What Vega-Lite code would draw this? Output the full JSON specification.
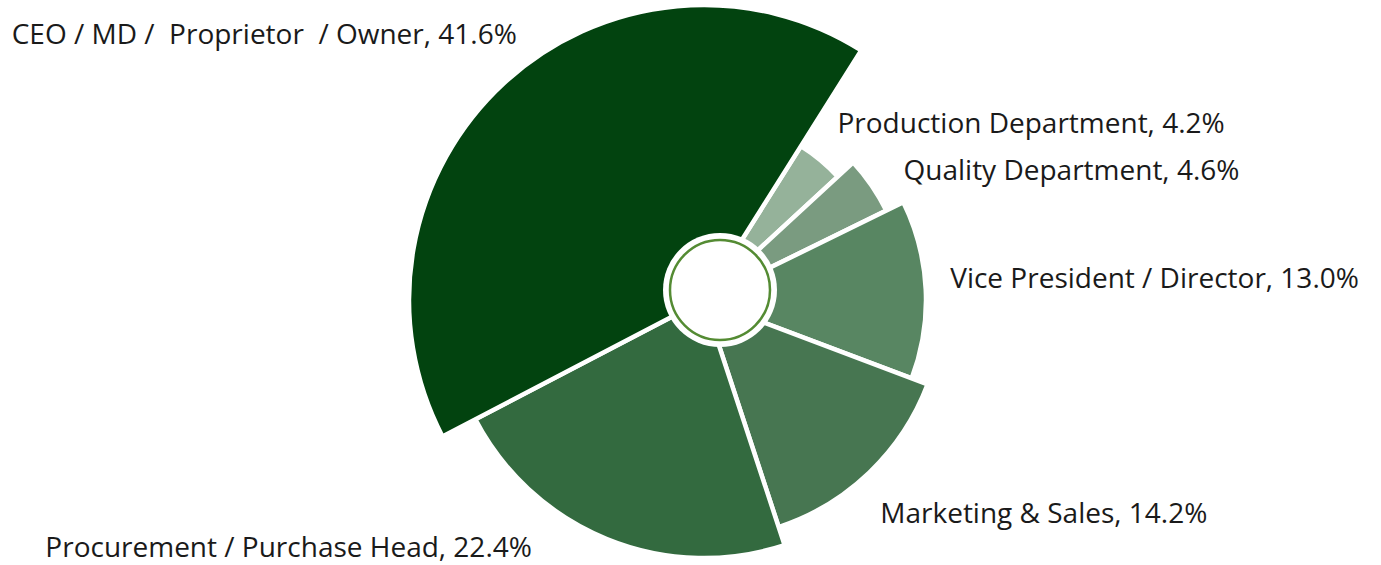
{
  "$schema": "https://vega.github.io/schema/vega-lite/v6.json",
  "width": 1354,
  "height": 530,
  "autosize": {"type": "none"},
  "padding": {"left": 27, "top": 35, "right": 0, "bottom": 0},
  "background": "white",
  "config": {"view": {"stroke": null}, "text": {"font": "Open Sans", "fontSize": 28, "fill": "#1a1a1a"}},
  "datasets": {
    "roles": [
      {"role": "Production Department", "share": 4.2, "label": "Production Department, 4.2%"},
      {"role": "Quality Department", "share": 4.6, "label": "Quality Department, 4.6%"},
      {"role": "Vice President / Director", "share": 13.0, "label": "Vice President / Director, 13.0%"},
      {"role": "Marketing & Sales", "share": 14.2, "label": "Marketing & Sales, 14.2%"},
      {"role": "Procurement / Purchase Head", "share": 22.4, "label": "Procurement / Purchase Head, 22.4%"},
      {"role": "CEO / MD /  Proprietor  / Owner", "share": 41.6, "label": "CEO / MD / \u00a0Proprietor \u00a0/ Owner, 41.6%"}
    ]
  },
  "data": {"name": "roles"},
  "layer": [
    {
      "mark": {"type": "arc", "stroke": "white", "strokeWidth": 4.5},
      "encoding": {
        "theta": {"field": "share", "type": "quantitative", "stack": true, "scale": {"range": [0.562, 6.8452]}},
        "order": {"field": "share", "sort": "ascending"},
        "radius": {"field": "share", "type": "quantitative", "scale": {"type": "linear", "domain": [4.2, 4.6, 13, 14.2, 22.4, 41.6], "range": [182, 203, 222, 239, 258, 295]}},
        "radius2": {"value": 0},
        "color": {"field": "role", "type": "nominal", "legend": null, "scale": {
          "domain": ["Production Department", "Quality Department", "Vice President / Director", "Marketing & Sales", "Procurement / Purchase Head", "CEO / MD /  Proprietor  / Owner"],
          "range": ["#95b29a", "#7a9b80", "#588662", "#477651", "#336a3f", "#02430f"]}}
      }
    },
    {
      "data": {"values": [{}]},
      "mark": {"type": "arc", "theta": 0, "theta2": 6.2832, "radius": 57, "fill": "white", "xOffset": 16, "yOffset": -10},
      "encoding": {}
    },
    {
      "data": {"values": [{}]},
      "mark": {"type": "arc", "theta": 0, "theta2": 6.2832, "radius": 50, "fill": "white", "stroke": "#548b33", "strokeWidth": 2.5, "xOffset": 16, "yOffset": -10},
      "encoding": {}
    },
    {
      "mark": {"type": "text", "align": "left", "baseline": "middle", "radiusOffset": 38, "thetaOffset": -0.042},
      "encoding": {
        "theta": {"field": "share", "type": "quantitative", "stack": true},
        "order": {"field": "share", "sort": "ascending"},
        "radius": {"field": "share", "type": "quantitative"},
        "text": {"field": "label", "type": "nominal", "condition": {"test": "datum.role !== 'Production Department'", "value": ""}}
      }
    },
    {
      "mark": {"type": "text", "align": "left", "baseline": "middle", "radiusOffset": 34, "thetaOffset": 0.03},
      "encoding": {
        "theta": {"field": "share", "type": "quantitative", "stack": true},
        "order": {"field": "share", "sort": "ascending"},
        "radius": {"field": "share", "type": "quantitative"},
        "text": {"field": "label", "type": "nominal", "condition": {"test": "datum.role !== 'Quality Department'", "value": ""}}
      }
    },
    {
      "mark": {"type": "text", "align": "left", "baseline": "middle", "radiusOffset": 25, "thetaOffset": -0.033},
      "encoding": {
        "theta": {"field": "share", "type": "quantitative", "stack": true},
        "order": {"field": "share", "sort": "ascending"},
        "radius": {"field": "share", "type": "quantitative"},
        "text": {"field": "label", "type": "nominal", "condition": {"test": "datum.role !== 'Vice President / Director'", "value": ""}}
      }
    },
    {
      "mark": {"type": "text", "align": "left", "baseline": "middle", "radiusOffset": 39, "thetaOffset": 0.077},
      "encoding": {
        "theta": {"field": "share", "type": "quantitative", "stack": true},
        "order": {"field": "share", "sort": "ascending"},
        "radius": {"field": "share", "type": "quantitative"},
        "text": {"field": "label", "type": "nominal", "condition": {"test": "datum.role !== 'Marketing & Sales'", "value": ""}}
      }
    },
    {
      "mark": {"type": "text", "align": "right", "baseline": "middle", "radiusOffset": 45, "thetaOffset": 0.218},
      "encoding": {
        "theta": {"field": "share", "type": "quantitative", "stack": true},
        "order": {"field": "share", "sort": "ascending"},
        "radius": {"field": "share", "type": "quantitative"},
        "text": {"field": "label", "type": "nominal", "condition": {"test": "datum.role !== 'Procurement / Purchase Head'", "value": ""}}
      }
    },
    {
      "mark": {"type": "text", "align": "right", "baseline": "middle", "radiusOffset": 29, "thetaOffset": 0.129},
      "encoding": {
        "theta": {"field": "share", "type": "quantitative", "stack": true},
        "order": {"field": "share", "sort": "ascending"},
        "radius": {"field": "share", "type": "quantitative"},
        "text": {"field": "label", "type": "nominal", "condition": {"test": "datum.role !== 'CEO / MD /  Proprietor  / Owner'", "value": ""}}
      }
    }
  ]
}
